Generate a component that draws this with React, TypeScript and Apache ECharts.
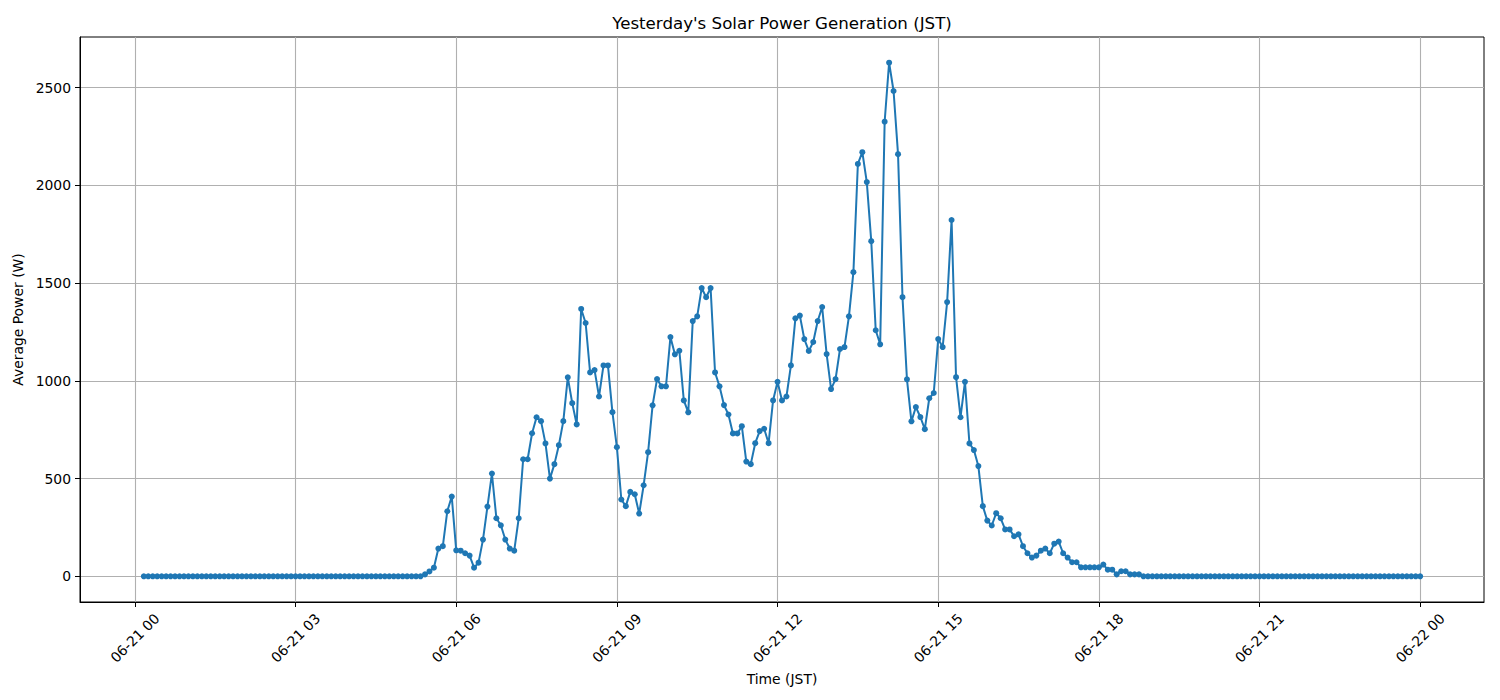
import React, { useEffect, useRef } from "react";
import * as echarts from "echarts";

// Timestamps: minutes after 06-21 00:00 (JST), one reading every 5 minutes from 00:10 to 24:00
const startMinute = 10;
const stepMinutes = 5;

// Average power (W) per 5-minute slot
const powerW = [
  // 00:10 - 00:55
  0, 0, 0, 0, 0, 0, 0, 0, 0, 0,
  // 01
  0, 0, 0, 0, 0, 0, 0, 0, 0, 0, 0, 0,
  // 02
  0, 0, 0, 0, 0, 0, 0, 0, 0, 0, 0, 0,
  // 03
  0, 0, 0, 0, 0, 0, 0, 0, 0, 0, 0, 0,
  // 04
  0, 0, 0, 0, 0, 0, 0, 0, 0, 0, 0, 0,
  // 05
  0, 0, 0, 0, 0, 10, 25, 44, 142, 154, 333, 408,
  // 06
  133, 131, 118, 106, 44, 70, 188, 357, 526, 297, 261, 188,
  // 07
  142, 131, 297, 599, 599, 732, 814, 794, 680, 500, 574, 671,
  // 08
  794, 1018, 886, 777, 1368, 1296, 1043, 1055, 920, 1079, 1079, 840,
  // 09
  661, 393, 359, 432, 420, 321, 466, 635, 875, 1009, 972, 972,
  // 10
  1224, 1136, 1154, 900, 839, 1306, 1330, 1475, 1428, 1475, 1043, 972,
  // 11
  876, 828, 731, 731, 768, 587, 574, 681, 743, 755, 681, 900,
  // 12
  995, 900, 920, 1079, 1320, 1334, 1214, 1153, 1199, 1306, 1378, 1137,
  // 13
  958, 1009, 1163, 1173, 1330, 1556, 2110, 2170, 2017, 1715, 1259, 1187,
  // 14
  2326, 2628, 2483, 2160, 1428, 1008, 793, 866, 815, 753, 911, 938,
  // 15
  1214, 1173, 1403, 1823, 1019, 814, 995, 680, 646, 564, 359, 285,
  // 16
  260, 323, 297, 240, 240, 205, 215, 154, 118, 96, 106, 131,
  // 17
  142, 118, 167, 178, 118, 96, 72, 72, 46, 46, 46, 46,
  // 18
  46, 60, 34, 34, 10, 26, 26, 10, 10, 10, 0, 0,
  // 19
  0, 0, 0, 0, 0, 0, 0, 0, 0, 0, 0, 0,
  // 20
  0, 0, 0, 0, 0, 0, 0, 0, 0, 0, 0, 0,
  // 21
  0, 0, 0, 0, 0, 0, 0, 0, 0, 0, 0, 0,
  // 22
  0, 0, 0, 0, 0, 0, 0, 0, 0, 0, 0, 0,
  // 23
  0, 0, 0, 0, 0, 0, 0, 0, 0, 0, 0, 0,
  // 24:00
  0,
];

const xTickMinutes = [0, 180, 360, 540, 720, 900, 1080, 1260, 1440];
const xTickLabels = [
  "06-21 00",
  "06-21 03",
  "06-21 06",
  "06-21 09",
  "06-21 12",
  "06-21 15",
  "06-21 18",
  "06-21 21",
  "06-22 00",
];
const yTicks = [0, 500, 1000, 1500, 2000, 2500];

const titleText = "Yesterday's Solar Power Generation (JST)";
const xName = "Time (JST)";
const yName = "Average Power (W)";

const FONT = "'DejaVu Sans', sans-serif";

export default function App() {
  const ref = useRef<HTMLDivElement>(null);

  useEffect(() => {
    document.body.style.margin = "0";
    if (!ref.current) return;
    const chart = echarts.init(ref.current, undefined, { renderer: "svg" });

    const points = powerW.map((v, i) => [startMinute + stepMinutes * i, v]);
    const xFirst = startMinute;
    const xLast = startMinute + stepMinutes * (powerW.length - 1);
    const xPad = 0.05 * (xLast - xFirst);
    const yMaxData = Math.max(...powerW);
    const yMinData = Math.min(...powerW);
    const yPad = 0.05 * (yMaxData - yMinData);

    const gridLeft = 80;
    const gridTop = 37;
    const gridWidth = 1404;
    const gridHeight = 565;

    chart.setOption({
      animation: false,
      backgroundColor: "#ffffff",
      textStyle: { fontFamily: FONT },
      grid: {
        left: gridLeft,
        top: gridTop,
        width: gridWidth,
        height: gridHeight,
        show: true,
        borderColor: "#000000",
        borderWidth: 1,
        backgroundColor: "transparent",
        containLabel: false,
      },
      graphic: [
        {
          type: "text",
          x: gridLeft + gridWidth / 2,
          y: 23,
          style: {
            text: titleText,
            fontSize: 16.67,
            fontFamily: FONT,
            fill: "#000000",
            textAlign: "center",
            textVerticalAlign: "middle",
          },
        },
      ],
      xAxis: {
        type: "value",
        min: xFirst - xPad,
        max: xLast + xPad,
        name: xName,
        nameLocation: "middle",
        nameGap: 68,
        nameTextStyle: { fontSize: 13.9, color: "#000000", fontFamily: FONT },
        axisLine: { show: true, onZero: false, lineStyle: { color: "#000000", width: 1 } },
        axisTick: {
          show: true,
          inside: false,
          length: 5,
          customValues: xTickMinutes,
          lineStyle: { color: "#000000", width: 1 },
        },
        axisLabel: {
          show: true,
          rotate: 45,
          align: "center",
          verticalAlign: "middle",
          margin: 36,
          fontSize: 13.9,
          color: "#000000",
          fontFamily: FONT,
          customValues: xTickMinutes,
          formatter: (val: number) => {
            const idx = xTickMinutes.indexOf(Math.round(val));
            return idx >= 0 ? xTickLabels[idx] : "";
          },
        },
        splitLine: { show: true, lineStyle: { color: "#b0b0b0", width: 1.1 } },
      },
      yAxis: {
        type: "value",
        min: yMinData - yPad,
        max: yMaxData + yPad,
        name: yName,
        nameLocation: "middle",
        nameGap: 52,
        nameRotate: 90,
        nameTextStyle: { fontSize: 13.9, color: "#000000", fontFamily: FONT },
        axisLine: { show: true, onZero: false, lineStyle: { color: "#000000", width: 1 } },
        axisTick: {
          show: true,
          inside: false,
          length: 5,
          customValues: yTicks,
          lineStyle: { color: "#000000", width: 1 },
        },
        axisLabel: {
          show: true,
          margin: 9,
          fontSize: 13.9,
          color: "#000000",
          fontFamily: FONT,
          customValues: yTicks,
          formatter: (val: number) => String(Math.round(val)),
        },
        splitLine: { show: true, lineStyle: { color: "#b0b0b0", width: 1.1 } },
      },
      series: [
        {
          type: "line",
          data: points,
          showSymbol: true,
          symbol: "circle",
          symbolSize: 6,
          lineStyle: { color: "#1f77b4", width: 2 },
          itemStyle: { color: "#1f77b4", borderWidth: 0 },
          emphasis: { disabled: true },
          z: 3,
        },
      ],
    });

    return () => {
      chart.dispose();
    };
  }, []);

  return <div ref={ref} style={{ width: 1500, height: 700 }} />;
}
